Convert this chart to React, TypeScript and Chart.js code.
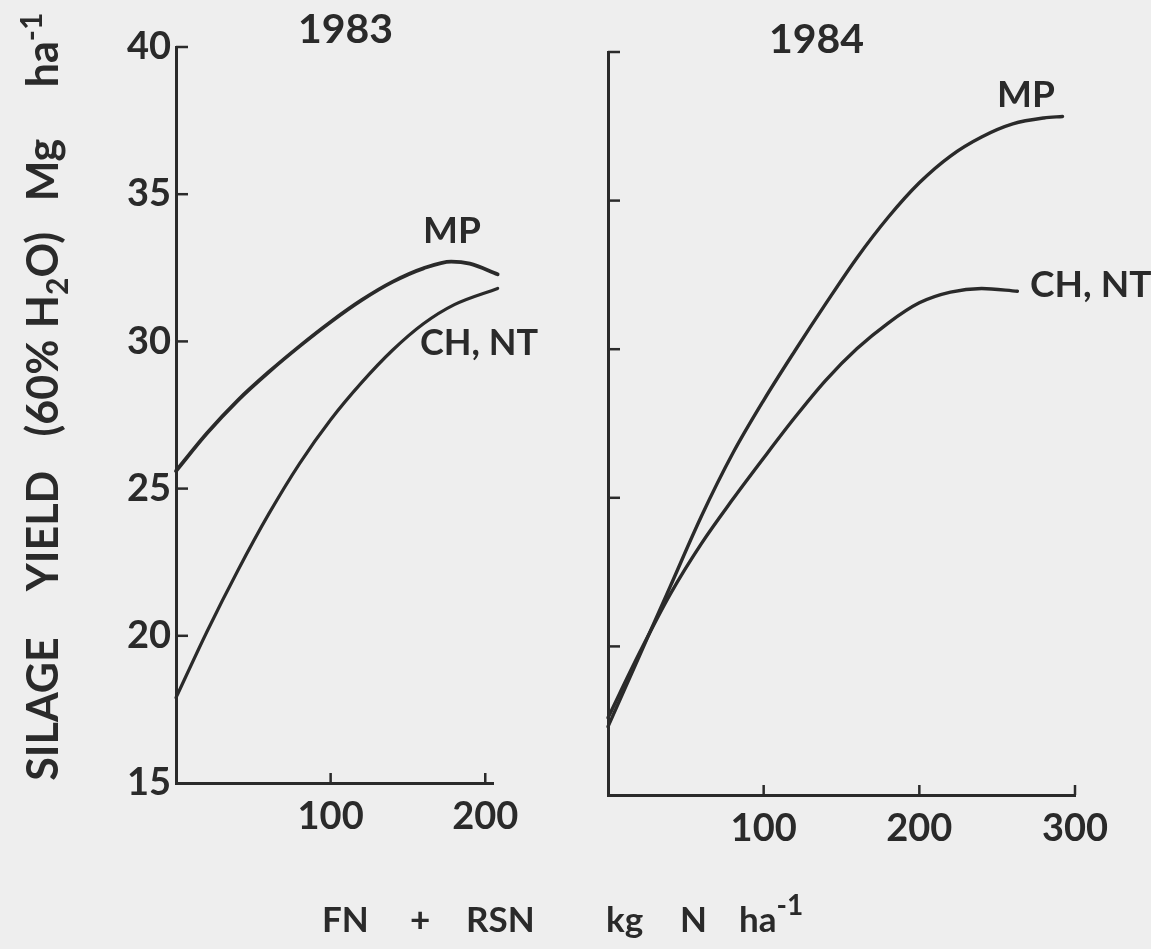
import React, { useEffect, useRef } from "react";
import { Chart, registerables } from "chart.js";

Chart.register(...registerables);

const PAGE_W = 1151;
const PAGE_H = 949;
const INK = "#2a2a2a";
const PAPER = "#eeeeee";
const FONT = "Lato, 'Open Sans', 'DejaVu Sans', sans-serif";

// ---- data (kg N/ha vs silage yield Mg/ha) ----
const yieldTicks = [15, 20, 25, 30, 35, 40];
const nTicks1983 = [100, 200];
const nTicks1984 = [100, 200, 300];

const n1983MP = [0, 20, 40, 60, 80, 100, 120, 140, 160, 178, 190, 208];
const yield1983MP = [25.6, 26.88, 28.0, 28.96, 29.84, 30.66, 31.4, 32.02, 32.48, 32.71, 32.64, 32.28];
const n1983CHNT = [0, 20, 40, 60, 80, 100, 120, 140, 160, 180, 208];
const yield1983CHNT = [17.9, 20.14, 22.22, 24.14, 25.86, 27.34, 28.6, 29.7, 30.6, 31.25, 31.8];

const n1984MP = [0, 20, 40, 60, 80, 100, 120, 140, 160, 180, 200, 220, 240, 260, 280, 292];
const yield1984MP = [17.3, 19.66, 22.02, 24.38, 26.48, 28.28, 29.94, 31.54, 33.08, 34.44, 35.6, 36.5, 37.14, 37.58, 37.78, 37.83];
const n1984CHNT = [0, 20, 40, 60, 80, 100, 120, 140, 160, 180, 200, 220, 240, 263];
const yield1984CHNT = [17.6, 19.76, 21.76, 23.46, 24.94, 26.34, 27.7, 28.96, 30.02, 30.88, 31.56, 31.92, 32.04, 31.95];

type Run = { t: string; size?: number; dy?: number };
type TextItem = { runs: Run[]; x: number; y: number; size: number; align?: "left" | "center"; rotate?: boolean };

const Y_BOX = 80;
const X_BOX = 70;

function drawText(ctx: CanvasRenderingContext2D, item: TextItem) {
  ctx.save();
  ctx.translate(item.x, item.y);
  if (item.rotate) ctx.rotate(-Math.PI / 2);
  ctx.fillStyle = INK;
  ctx.textBaseline = "alphabetic";
  ctx.textAlign = "left";
  const widths = item.runs.map((r) => {
    ctx.font = `bold ${r.size ?? item.size}px ${FONT}`;
    return ctx.measureText(r.t).width;
  });
  const total = widths.reduce((a, b) => a + b, 0);
  let cx = item.align === "center" ? -total / 2 : 0;
  item.runs.forEach((r, i) => {
    ctx.font = `bold ${r.size ?? item.size}px ${FONT}`;
    ctx.fillText(r.t, cx, r.dy ?? 0);
    cx += widths[i];
  });
  ctx.restore();
}

const leftTexts: TextItem[] = [
  { runs: [{ t: "1983" }], x: 298, y: 43, size: 41 },
  { runs: [{ t: "MP" }], x: 423, y: 243, size: 37 },
  { runs: [{ t: "CH, NT" }], x: 420, y: 355, size: 36 },
  { runs: [{ t: "SILAGE" }], x: 58, y: 709, size: 43, align: "center", rotate: true },
  { runs: [{ t: "YIELD" }], x: 58, y: 531, size: 43, align: "center", rotate: true },
  { runs: [{ t: "(60%" }], x: 58, y: 388, size: 43, align: "center", rotate: true },
  { runs: [{ t: "H" }, { t: "2", size: 30, dy: 10 }, { t: "O)" }], x: 58, y: 280, size: 43, align: "center", rotate: true },
  { runs: [{ t: "Mg" }], x: 58, y: 170, size: 43, align: "center", rotate: true },
  { runs: [{ t: "ha" }, { t: "-1", size: 30, dy: -16 }], x: 58, y: 50, size: 43, align: "center", rotate: true },
  { runs: [{ t: "FN" }], x: 322, y: 932, size: 35 },
  { runs: [{ t: "+" }], x: 410, y: 932, size: 35 },
  { runs: [{ t: "RSN" }], x: 466, y: 932, size: 35 },
  { runs: [{ t: "kg" }], x: 606, y: 932, size: 35 },
  { runs: [{ t: "N" }], x: 680, y: 932, size: 35 },
  { runs: [{ t: "ha" }, { t: "-1", size: 28, dy: -17 }], x: 739, y: 932, size: 35 },
];

const rightTexts: TextItem[] = [
  { runs: [{ t: "1984" }], x: 769, y: 53, size: 41 },
  { runs: [{ t: "MP" }], x: 997, y: 107, size: 37 },
  { runs: [{ t: "CH, NT" }], x: 1030, y: 297, size: 37 },
];

type PanelOpts = {
  area: { left: number; right: number; top: number; bottom: number };
  xMax: number;
  xTicks: number[];
  showYLabels: boolean;
  series: { x: number[]; y: number[]; width: number }[];
  texts: TextItem[];
};

function makeConfig(p: PanelOpts): any {
  const inwardTicks = {
    id: "inwardTicks",
    afterDatasetsDraw(chart: any) {
      const { ctx, chartArea, scales } = chart;
      const xs = scales.x;
      const ys = scales.y;
      ctx.save();
      ctx.strokeStyle = INK;
      ctx.lineWidth = 2.5;
      ys.ticks.forEach((t: any) => {
        if (t.value === ys.min) return;
        const py = ys.getPixelForValue(t.value);
        ctx.beginPath();
        ctx.moveTo(chartArea.left, py);
        ctx.lineTo(chartArea.left + 12, py);
        ctx.stroke();
      });
      xs.ticks.forEach((t: any) => {
        const px = xs.getPixelForValue(t.value);
        ctx.beginPath();
        ctx.moveTo(px, chartArea.bottom);
        ctx.lineTo(px, chartArea.bottom - 10);
        ctx.stroke();
      });
      ctx.restore();
    },
    afterDraw(chart: any) {
      p.texts.forEach((t) => drawText(chart.ctx, t));
    },
  };

  return {
    type: "line",
    data: {
      datasets: p.series.map((s) => ({
        data: s.x.map((v, i) => ({ x: v, y: s.y[i] })),
        borderColor: INK,
        borderWidth: s.width,
        borderCapStyle: "round",
        borderJoinStyle: "round",
        pointRadius: 0,
        cubicInterpolationMode: "monotone",
        fill: false,
        clip: false,
      })),
    },
    options: {
      animation: false,
      responsive: false,
      maintainAspectRatio: false,
      layout: {
        autoPadding: false,
        padding: {
          left: p.area.left - Y_BOX,
          right: PAGE_W - p.area.right,
          top: p.area.top,
          bottom: PAGE_H - p.area.bottom - X_BOX,
        },
      },
      plugins: { legend: { display: false }, tooltip: { enabled: false } },
      scales: {
        x: {
          type: "linear",
          min: 0,
          max: p.xMax,
          afterBuildTicks: (s: any) => {
            s.ticks = p.xTicks.map((v) => ({ value: v }));
          },
          afterFit: (s: any) => {
            s.height = X_BOX;
          },
          grid: { display: false, drawTicks: false },
          border: { display: true, color: INK, width: 3 },
          ticks: {
            color: INK,
            font: { family: FONT, size: 38, weight: "bold" },
            padding: 11,
            maxRotation: 0,
            autoSkip: false,
          },
        },
        y: {
          type: "linear",
          min: 15,
          max: 40,
          afterBuildTicks: (s: any) => {
            s.ticks = yieldTicks.map((v) => ({ value: v }));
          },
          afterFit: (s: any) => {
            s.width = Y_BOX;
          },
          grid: { display: false, drawTicks: false },
          border: { display: true, color: INK, width: 3 },
          ticks: {
            display: p.showYLabels,
            color: INK,
            font: { family: FONT, size: 38, weight: "bold" },
            padding: 5,
            autoSkip: false,
          },
        },
      },
    },
    plugins: [inwardTicks],
  };
}

export default function App() {
  const leftRef = useRef<HTMLCanvasElement>(null);
  const rightRef = useRef<HTMLCanvasElement>(null);

  useEffect(() => {
    const c1 = new Chart(
      leftRef.current as HTMLCanvasElement,
      makeConfig({
        area: { left: 176, right: 493, top: 47, bottom: 783 },
        xMax: 205,
        xTicks: nTicks1983,
        showYLabels: true,
        series: [
          { x: n1983MP, y: yield1983MP, width: 3.8 },
          { x: n1983CHNT, y: yield1983CHNT, width: 3.2 },
        ],
        texts: leftTexts,
      })
    );
    const c2 = new Chart(
      rightRef.current as HTMLCanvasElement,
      makeConfig({
        area: { left: 608, right: 1075, top: 52, bottom: 795 },
        xMax: 300,
        xTicks: nTicks1984,
        showYLabels: false,
        series: [
          { x: n1984MP, y: yield1984MP, width: 3.4 },
          { x: n1984CHNT, y: yield1984CHNT, width: 3.4 },
        ],
        texts: rightTexts,
      })
    );
    return () => {
      c1.destroy();
      c2.destroy();
    };
  }, []);

  return (
    <div
      style={{
        position: "absolute",
        left: 0,
        top: 0,
        width: PAGE_W,
        height: PAGE_H,
        background: PAPER,
        overflow: "hidden",
      }}
    >
      <canvas ref={leftRef} width={PAGE_W} height={PAGE_H} style={{ position: "absolute", left: 0, top: 0 }} />
      <canvas ref={rightRef} width={PAGE_W} height={PAGE_H} style={{ position: "absolute", left: 0, top: 0 }} />
    </div>
  );
}
